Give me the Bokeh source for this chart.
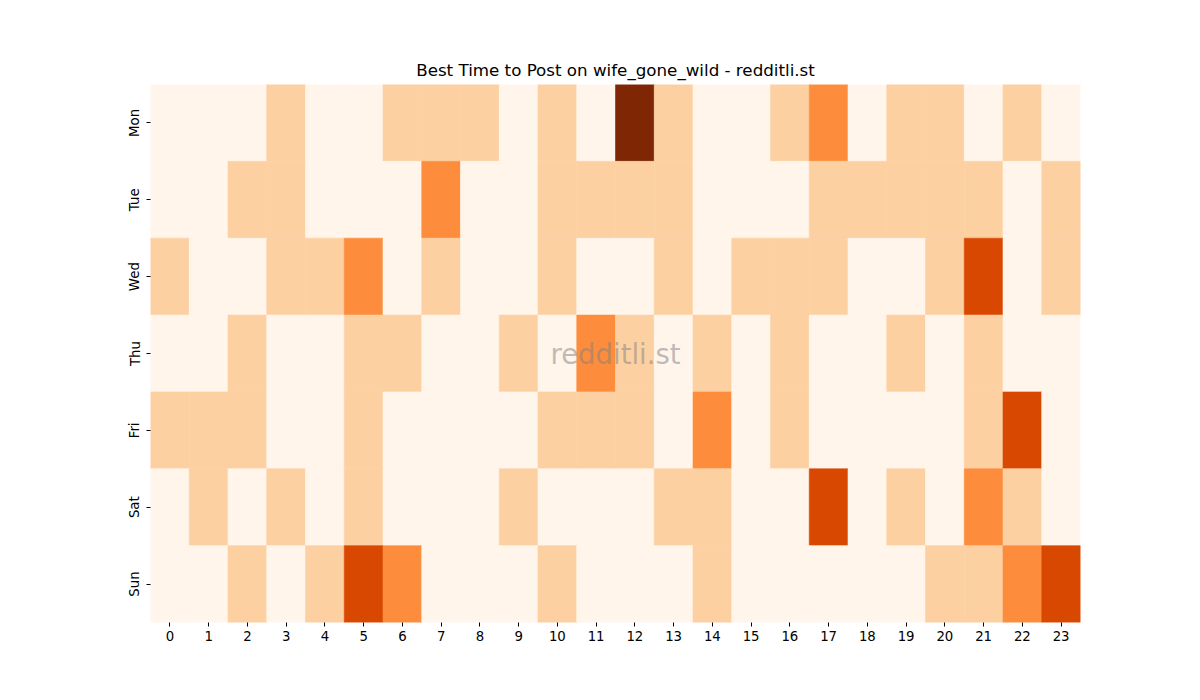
from bokeh.plotting import figure
from bokeh.models import ColumnDataSource, FactorRange, LinearColorMapper, Label
from bokeh.transform import transform
from bokeh.embed import file_html
from bokeh.resources import INLINE

hours = [str(h) for h in range(24)]
days = ["Mon", "Tue", "Wed", "Thu", "Fri", "Sat", "Sun"]

# posts per hour, one list per day
mon = [0, 0, 0, 1, 0, 0, 1, 1, 1, 0, 1, 0, 4, 1, 0, 0, 1, 2, 0, 1, 1, 0, 1, 0]
tue = [0, 0, 1, 1, 0, 0, 0, 2, 0, 0, 1, 1, 1, 1, 0, 0, 0, 1, 1, 1, 1, 1, 0, 1]
wed = [1, 0, 0, 1, 1, 2, 0, 1, 0, 0, 1, 0, 0, 1, 0, 1, 1, 1, 0, 0, 1, 3, 0, 1]
thu = [0, 0, 1, 0, 0, 1, 1, 0, 0, 1, 0, 2, 1, 0, 1, 0, 1, 0, 0, 1, 0, 1, 0, 0]
fri = [1, 1, 1, 0, 0, 1, 0, 0, 0, 0, 1, 1, 1, 0, 2, 0, 1, 0, 0, 0, 0, 1, 3, 0]
sat = [0, 1, 0, 1, 0, 1, 0, 0, 0, 1, 0, 0, 0, 1, 1, 0, 0, 3, 0, 1, 0, 2, 1, 0]
sun = [0, 0, 1, 0, 1, 3, 2, 0, 0, 0, 1, 0, 0, 0, 1, 0, 0, 0, 0, 0, 1, 1, 2, 3]

title = "Best Time to Post on wife_gone_wild - redditli.st"
watermark = "redditli.st"

rows = [mon, tue, wed, thu, fri, sat, sun]
xs, ys, vals = [], [], []
for day, row in zip(days, rows):
    for hour, v in zip(hours, row):
        xs.append(hour)
        ys.append(day)
        vals.append(v)
source = ColumnDataSource(data=dict(hour=xs, day=ys, count=vals))

# matplotlib "Oranges" sampled at 0, .25, .5, .75, 1
oranges = ["#fff5eb", "#fdd0a2", "#fd8d3c", "#d94801", "#7f2704"]
mapper = LinearColorMapper(palette=oranges, low=-0.5, high=4.5)

FONT = "DejaVu Sans"

p = figure(
    x_range=FactorRange(factors=hours, range_padding=0),
    y_range=FactorRange(factors=list(reversed(days)), range_padding=0),
    width=1184, height=684,
    min_border_left=150, min_border_right=104,
    min_border_top=84, min_border_bottom=62,
    output_backend="svg", toolbar_location=None,
    title=title,
)

p.rect(x="hour", y="day", width=1, height=1, source=source,
       fill_color=transform("count", mapper),
       line_color=transform("count", mapper), line_width=0.6)

p.title.align = "center"
p.title.text_font = FONT
p.title.text_font_size = "16.7px"
p.title.text_font_style = "normal"
p.title.text_color = "black"

for ax in (p.xaxis, p.yaxis):
    ax.axis_line_color = None
    ax.major_tick_in = 0
    ax.major_tick_out = 4
    ax.minor_tick_line_color = None
    ax.major_label_text_font = FONT
    ax.major_label_text_font_size = "13.3px"
    ax.major_label_text_color = "black"
    ax.major_label_standoff = 4
p.yaxis.major_label_orientation = "vertical"

p.grid.grid_line_color = None
p.outline_line_color = None

p.add_layout(Label(x=12, y=3.5, text=watermark, text_align="center",
                   text_baseline="middle", text_font=FONT,
                   text_font_size="27.5px", text_color="gray", text_alpha=0.5))

open("out.html", "w").write(file_html(p, INLINE))
